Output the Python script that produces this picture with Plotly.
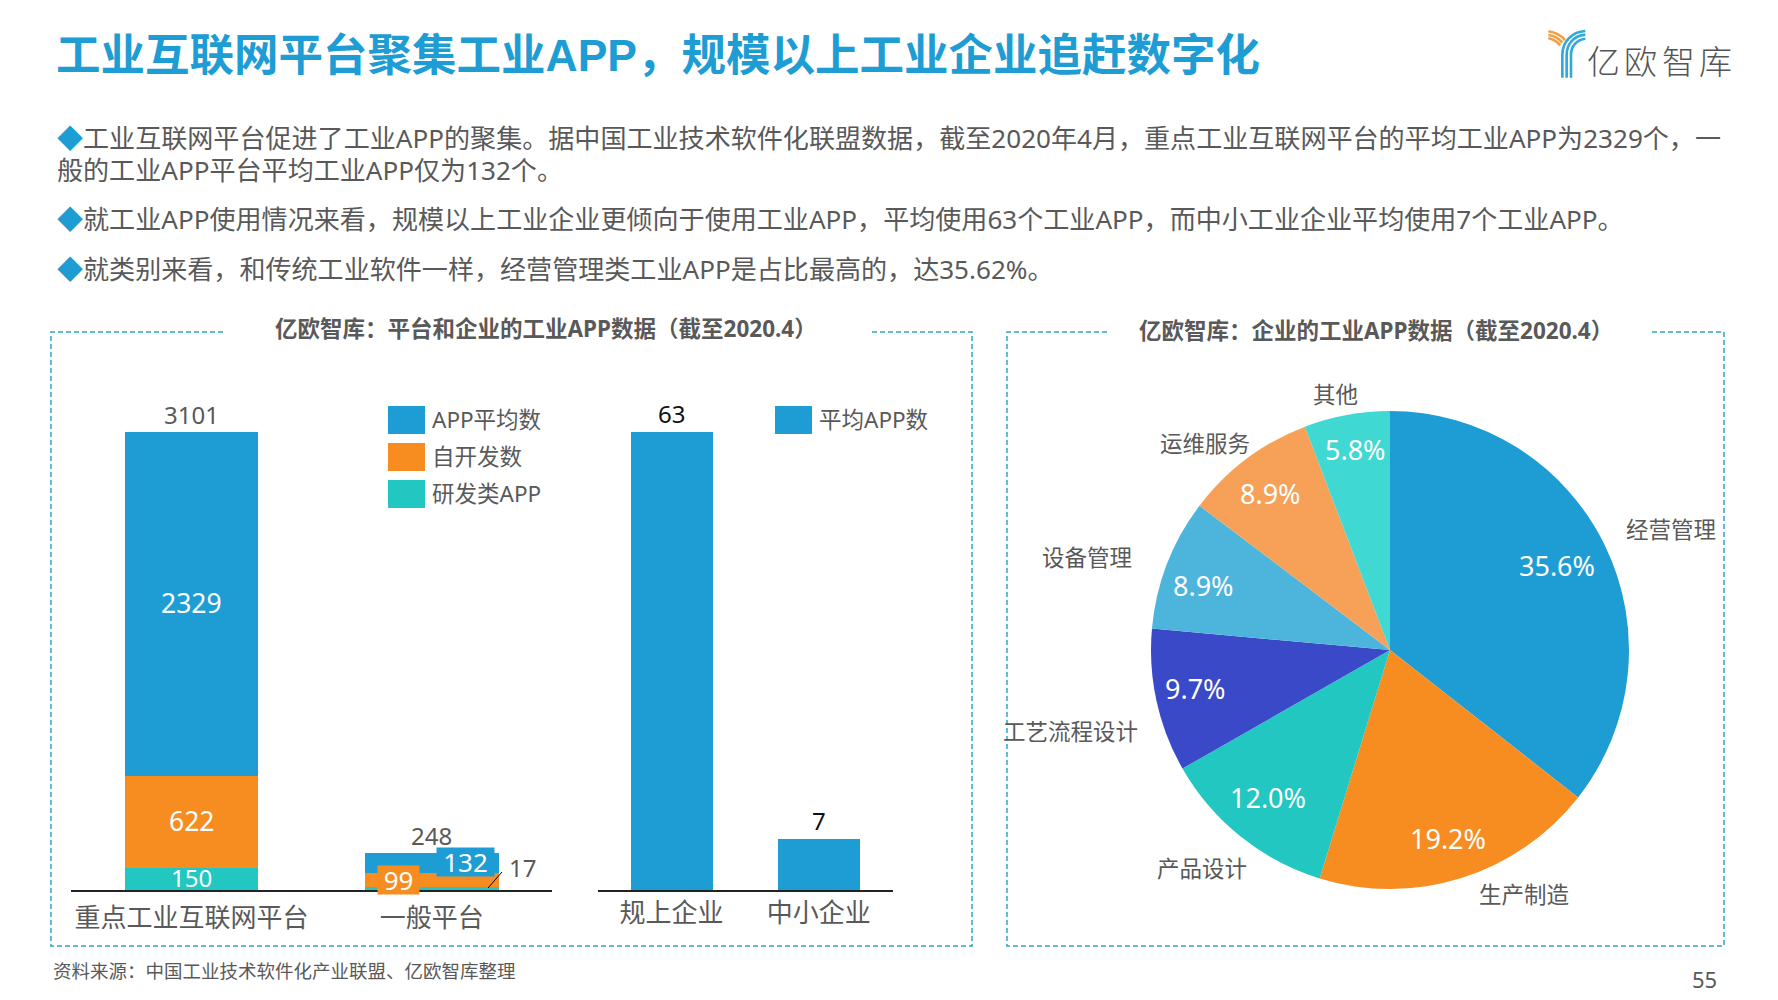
import plotly.graph_objects as go

W, H = 1778, 1000
FONT = "Noto Sans, Noto Sans CJK SC, sans-serif"
CJK = "Noto Sans CJK SC, sans-serif"
BLUE, ORANGE, TEAL = "#1E9DD4", "#F78D21", "#22C7C2"
GREY = "#595959"

platforms = ["重点工业互联网平台", "一般平台"]
rd_apps = [150, 17]
self_dev = [622, 99]
avg_apps = [2329, 132]
platform_totals = [3101, 248]
enterprises = ["规上企业", "中小企业"]
enterprise_apps = [63, 7]
pie_labels = ["经营管理", "生产制造", "产品设计", "工艺流程设计", "设备管理", "运维服务", "其他"]
pie_values = [35.62, 19.2, 12.0, 9.7, 8.9, 8.9, 5.8]
pie_colors = [BLUE, ORANGE, TEAL, "#3949C7", "#4DB5DC", "#F7A158", "#3FD8D2"]

def px(x): return x / W
def py(y): return 1 - y / H

fig = go.Figure()
fig.add_bar(x=platforms, y=rd_apps, name="研发类APP", marker_color=TEAL, marker_line_width=0)
fig.add_bar(x=platforms, y=self_dev, name="自开发数", marker_color=ORANGE, marker_line_width=0)
fig.add_bar(x=platforms, y=avg_apps, name="APP平均数", marker_color=BLUE, marker_line_width=0)
fig.add_bar(x=enterprises, y=enterprise_apps, name="平均APP数", marker_color=BLUE, marker_line_width=0,
            xaxis="x2", yaxis="y2")
fig.add_pie(labels=pie_labels, values=pie_values, sort=False, direction="clockwise", rotation=0,
            marker=dict(colors=pie_colors, line=dict(width=0)),
            domain=dict(x=[px(1151), px(1629)], y=[py(889), py(411)]),
            textinfo="none", showlegend=False)

ann = []
def text(x, y, s, size, color=GREY, anchor="center", bold=False, family=FONT, weight=None):
    f = dict(size=size, color=color, family=family)
    if weight:
        f["weight"] = weight
    ann.append(dict(xref="paper", yref="paper", x=px(x), y=py(y), text=f"<b>{s}</b>" if bold else s,
                    showarrow=False, xanchor=anchor, yanchor="middle", align="left", font=f))

def data_label(cat, y, s, size, color="white", axes=("x", "y"), **kw):
    ann.append(dict(xref=axes[0], yref=axes[1], x=cat, y=y, text=s, showarrow=False,
                    font=dict(size=size, color=color, family=FONT), **kw))

text(54, 55, "工业互联网平台聚集工业APP，规模以上工业企业追赶数字化", 44.5, BLUE, "left", True, "Liberation Sans, Noto Sans CJK SC, sans-serif")
dia = f'<span style="color:{BLUE}">◆</span>'
text(55, 138, dia + "工业互联网平台促进了工业APP的聚集。据中国工业技术软件化联盟数据，截至2020年4月，重点工业互联网平台的平均工业APP为2329个，一", 26.07, anchor="left")
text(55, 170, "般的工业APP平台平均工业APP仅为132个。", 26.07, anchor="left")
text(55, 219, dia + "就工业APP使用情况来看，规模以上工业企业更倾向于使用工业APP，平均使用63个工业APP，而中小工业企业平均使用7个工业APP。", 26.07, anchor="left")
text(55, 269, dia + "就类别来看，和传统工业软件一样，经营管理类工业APP是占比最高的，达35.62%。", 26.07, anchor="left")
text(546, 329, "亿欧智库：平台和企业的工业APP数据（截至2020.4）", 22.5, bold=True)
text(1376, 331, "亿欧智库：企业的工业APP数据（截至2020.4）", 22.5, bold=True)
text(51, 970, "资料来源：中国工业技术软件化产业联盟、亿欧智库整理", 18.5, anchor="left")
text(1704, 979, "55", 22)
text(522, 867, "17", 24)

# stacked-bar labels
for seq, base in [(rd_apps, 0), (self_dev, rd_apps[0]), (avg_apps, rd_apps[0] + self_dev[0])]:
    data_label(platforms[0], base + seq[0] / 2, str(seq[0]), 24 if seq is rd_apps else 26.5, yshift=1)
for cat, total in zip(platforms, platform_totals):
    data_label(cat, total, str(total), 24, GREY, yanchor="bottom", yshift=-1)
for cat, v in zip(enterprises, enterprise_apps):
    data_label(cat, v, str(v), 24, "#111111", axes=("x2", "y2"), yanchor="bottom", yshift=0)
data_label(platforms[1], rd_apps[1] + self_dev[1] + avg_apps[1] / 2, str(avg_apps[1]), 26,
           xshift=34, yshift=1, bgcolor=BLUE, borderpad=0, width=57, height=28)
data_label(platforms[1], rd_apps[1] + self_dev[1] / 2, str(self_dev[1]), 26,
           xshift=-33, yshift=0, bgcolor=ORANGE, borderpad=0, width=41, height=28)

# legends
shapes = []
def rect(x0, y0, x1, y1, c):
    shapes.append(dict(type="rect", xref="paper", yref="paper", x0=px(x0), x1=px(x1), y0=py(y0), y1=py(y1),
                       fillcolor=c, line_width=0))
for y, c, s in [(420, BLUE, "APP平均数"), (457, ORANGE, "自开发数"), (494, TEAL, "研发类APP")]:
    rect(388, y - 14, 425, y + 14, c)
    text(430, y - 0.5, s, 22.5, anchor="left")
rect(775, 406, 812, 434, BLUE)
text(817, 419, "平均APP数", 22.5, anchor="left")

# pie outer labels
for (x, y), s in zip([(1671, 529), (1524, 894), (1202, 868), (1070, 731), (1087, 557), (1205, 443), (1335, 394)], pie_labels):
    text(x, y, s, 22.5)

# pie percent labels
total_share = sum(pie_values)
for (x, y), v in zip([(1557, 565), (1448, 838), (1268, 797), (1195, 688), (1203, 585), (1270, 493), (1355, 450)], pie_values):
    text(x, y, f"{v / total_share:.1%}", 27, "white")

# dashed frames
def frame(l, t, r, b, g0, g1):
    p = f"M {px(g0)} {py(t)} L {px(l)} {py(t)} L {px(l)} {py(b)} L {px(r)} {py(b)} L {px(r)} {py(t)} L {px(g1)} {py(t)}"
    shapes.append(dict(type="path", xref="paper", yref="paper", path=p,
                       line=dict(color="#2FA3CC", width=1.5, dash="5px,3px")))
frame(51, 332, 972, 946, 223, 871)
frame(1007, 332, 1724, 946, 1107, 1650)

# leader line of the "17" label
shapes.append(dict(type="line", xref="paper", yref="paper", x0=px(488), y0=py(888), x1=px(502), y1=py(872),
                   line=dict(color="black", width=1)))

# logo
def zx(x): return px(1530 + x / 3)
def zy(y): return py(10 + y / 3)
def curve(pts, c):
    (a, b, c1, d) = pts[:4]
    p = f"M {zx(a[0])} {zy(a[1])} C {zx(b[0])} {zy(b[1])} {zx(c1[0])} {zy(c1[1])} {zx(d[0])} {zy(d[1])}"
    if len(pts) > 4:
        p += f" L {zx(pts[4][0])} {zy(pts[4][1])}"
    shapes.append(dict(type="path", xref="paper", yref="paper", path=p, line=dict(color=c, width=2.6)))
for pts in [[(166, 63), (125, 66), (97, 95), (97, 135), (97, 203)],
            [(166, 74), (133, 77), (110, 100), (110, 135), (110, 203)],
            [(166, 86), (140, 89), (123, 108), (123, 135), (123, 203)]]:
    curve(pts, "#2FA8DC")
for pts in [[(55, 64), (75, 67), (92, 76), (105, 90)],
            [(55, 75), (72, 77), (85, 84), (97, 98)],
            [(55, 85), (68, 87), (80, 93), (90, 106)]]:
    curve(pts, "#F0A040")
for x, s in zip([1603, 1640.5, 1678, 1715], "亿欧智库"):
    text(x, 60, s, 33, "#555555", family=CJK, weight=300)

fig.update_layout(
    width=W, height=H, margin=dict(l=0, r=0, t=0, b=0), paper_bgcolor="white", plot_bgcolor="white",
    barmode="stack", bargap=0.444, showlegend=False, annotations=ann, shapes=shapes,
    xaxis=dict(domain=[px(71.4), px(552)], showline=True, linecolor="#222222", linewidth=1.5, ticks="",
               tickfont=dict(size=26, color=GREY, family=FONT), ticklabelstandoff=4, fixedrange=True,
               categoryorder="array", categoryarray=platforms),
    yaxis=dict(domain=[py(890), py(432)], range=[0, 3101], visible=False),
    xaxis2=dict(domain=[px(598), px(892.5)], anchor="y2", showline=True, linecolor="#222222", linewidth=1.5, ticks="",
                tickfont=dict(size=26, color=GREY, family=FONT), ticklabelstandoff=-1,
                categoryorder="array", categoryarray=enterprises),
    yaxis2=dict(domain=[py(890), py(432)], range=[0, 63], visible=False, anchor="x2"),
)
fig.write_html("out.html", config=dict(displayModeBar=False), post_script="document.body.style.margin='0';")
